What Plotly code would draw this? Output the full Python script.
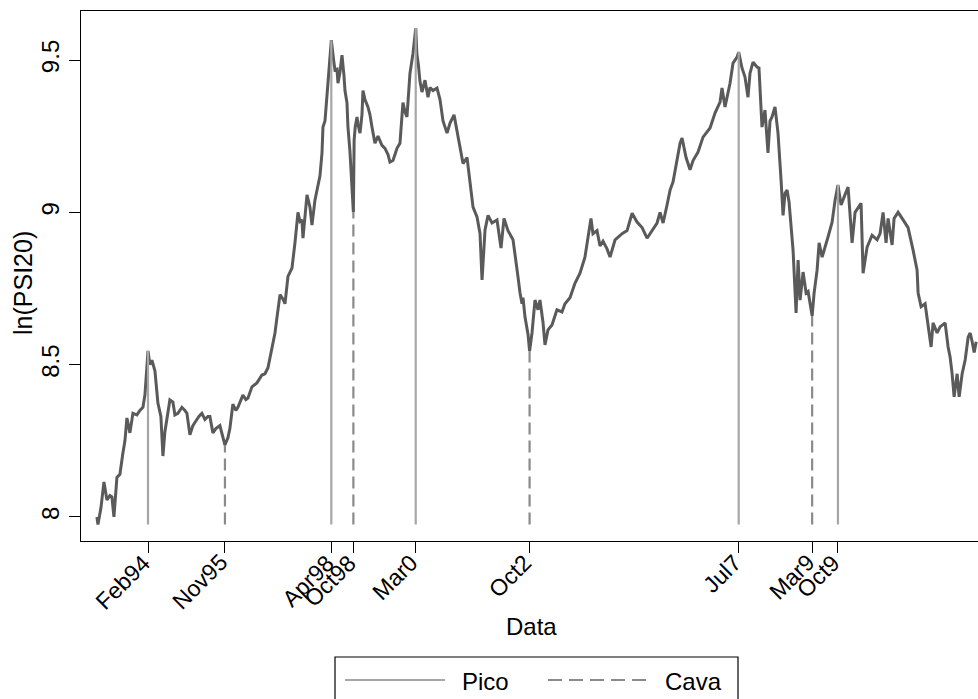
import datetime as dt
import plotly.graph_objects as go

# ---- PSI20 index, natural log, sampled along the series (decimal years) ----
years = [
    1992.925, 1992.948, 1993.016, 1993.084, 1993.152, 1993.220, 1993.265, 1993.311,
    1993.379, 1993.447, 1993.515, 1993.561, 1993.606, 1993.674, 1993.742, 1993.833,
    1993.901, 1993.970, 1994.015, 1994.060, 1994.085, 1994.128, 1994.174, 1994.242,
    1994.310, 1994.378, 1994.424, 1994.469, 1994.515, 1994.582, 1994.651, 1994.696,
    1994.764, 1994.855, 1994.923, 1994.969, 1995.037, 1995.105, 1995.150, 1995.241,
    1995.309, 1995.378, 1995.446, 1995.491, 1995.559, 1995.627, 1995.718, 1995.764,
    1995.833, 1995.900, 1995.945, 1996.013, 1996.081, 1996.127, 1996.240, 1996.308,
    1996.354, 1996.445, 1996.558, 1996.672, 1996.740, 1996.808, 1996.876, 1996.967,
    1997.013, 1997.081, 1997.149, 1997.194, 1997.262, 1997.353, 1997.421, 1997.489,
    1997.535, 1997.580, 1997.603, 1997.694, 1997.762, 1997.807, 1997.875, 1997.944,
    1997.989, 1998.035, 1998.057, 1998.103, 1998.148, 1998.194, 1998.247, 1998.307,
    1998.330, 1998.375, 1998.398, 1998.443, 1998.489, 1998.534, 1998.557, 1998.602,
    1998.625, 1998.670, 1998.748, 1998.765, 1998.790, 1998.830, 1998.852, 1998.898,
    1998.943, 1998.966, 1999.011, 1999.079, 1999.125, 1999.170, 1999.238, 1999.307,
    1999.352, 1999.397, 1999.466, 1999.534, 1999.579, 1999.647, 1999.693, 1999.738,
    1999.806, 1999.874, 1999.920, 1999.965, 2000.033, 2000.100, 2000.164, 2000.190,
    2000.225, 2000.260, 2000.306, 2000.374, 2000.442, 2000.487, 2000.555, 2000.646,
    2000.714, 2000.782, 2000.873, 2000.941, 2001.032, 2001.100, 2001.168, 2001.236,
    2001.327, 2001.395, 2001.463, 2001.554, 2001.622, 2001.668, 2001.736, 2001.804,
    2001.895, 2002.008, 2002.099, 2002.167, 2002.258, 2002.372, 2002.417, 2002.485,
    2002.531, 2002.576, 2002.599, 2002.644, 2002.712, 2002.748, 2002.803, 2002.871,
    2002.939, 2002.984, 2003.052, 2003.098, 2003.166, 2003.257, 2003.370, 2003.484,
    2003.552, 2003.666, 2003.779, 2003.893, 2004.006, 2004.074, 2004.142, 2004.188,
    2004.279, 2004.347, 2004.415, 2004.506, 2004.574, 2004.688, 2004.847, 2004.960,
    2005.074, 2005.187, 2005.301, 2005.414, 2005.528, 2005.641, 2005.709, 2005.778,
    2005.868, 2005.937, 2006.005, 2006.096, 2006.164, 2006.209, 2006.300, 2006.391,
    2006.459, 2006.572, 2006.686, 2006.845, 2006.958, 2007.072, 2007.117, 2007.185,
    2007.299, 2007.367, 2007.458, 2007.496, 2007.571, 2007.639, 2007.707, 2007.753,
    2007.821, 2007.912, 2007.957, 2008.025, 2008.093, 2008.161, 2008.207, 2008.252,
    2008.320, 2008.388, 2008.434, 2008.457, 2008.479, 2008.502, 2008.547, 2008.593,
    2008.638, 2008.684, 2008.729, 2008.797, 2008.843, 2008.888, 2008.956, 2009.024,
    2009.070, 2009.162, 2009.206, 2009.274, 2009.320, 2009.388, 2009.456, 2009.524,
    2009.615, 2009.683, 2009.748, 2009.819, 2009.887, 2009.978, 2010.069, 2010.137,
    2010.273, 2010.319, 2010.410, 2010.523, 2010.637, 2010.705, 2010.773, 2010.841,
    2010.887, 2010.978, 2011.023, 2011.114, 2011.228, 2011.341, 2011.455, 2011.546,
    2011.569, 2011.637, 2011.728, 2011.796, 2011.864, 2011.909, 2012.000, 2012.068,
    2012.182, 2012.250, 2012.295, 2012.341, 2012.386, 2012.454, 2012.500, 2012.568,
    2012.636, 2012.704, 2012.750, 2012.795, 2012.841, 2012.886,
]

ln_psi20 = [
    8.000, 7.975, 8.030, 8.115, 8.056, 8.070, 8.066, 8.000,
    8.130, 8.140, 8.210, 8.250, 8.325, 8.276, 8.340, 8.335,
    8.350, 8.360, 8.400, 8.490, 8.545, 8.500, 8.515, 8.480,
    8.374, 8.330, 8.200, 8.280, 8.320, 8.384, 8.377, 8.335,
    8.340, 8.360, 8.350, 8.340, 8.270, 8.300, 8.310, 8.330,
    8.340, 8.320, 8.330, 8.330, 8.276, 8.290, 8.300, 8.270,
    8.236, 8.260, 8.290, 8.370, 8.350, 8.360, 8.400, 8.385,
    8.390, 8.427, 8.440, 8.466, 8.470, 8.490, 8.540, 8.604,
    8.656, 8.730, 8.715, 8.700, 8.790, 8.817, 8.900, 9.000,
    8.970, 8.975, 8.915, 9.057, 9.017, 8.958, 9.040, 9.083,
    9.120, 9.195, 9.280, 9.300, 9.378, 9.477, 9.565, 9.490,
    9.467, 9.470, 9.424, 9.460, 9.516, 9.450, 9.400, 9.360,
    9.280, 9.200, 9.000, 9.237, 9.280, 9.313, 9.290, 9.260,
    9.320, 9.400, 9.370, 9.346, 9.320, 9.280, 9.227, 9.250,
    9.237, 9.220, 9.210, 9.190, 9.165, 9.170, 9.190, 9.210,
    9.227, 9.360, 9.330, 9.313, 9.456, 9.520, 9.605, 9.520,
    9.483, 9.430, 9.395, 9.434, 9.378, 9.410, 9.400, 9.408,
    9.370, 9.300, 9.260, 9.293, 9.320, 9.270, 9.214, 9.160,
    9.180, 9.106, 9.017, 8.985, 8.930, 8.778, 8.942, 8.990,
    8.965, 8.975, 8.883, 8.980, 8.940, 8.910, 8.853, 8.788,
    8.735, 8.700, 8.720, 8.656, 8.600, 8.545, 8.604, 8.712,
    8.680, 8.712, 8.640, 8.565, 8.614, 8.630, 8.680, 8.673,
    8.700, 8.720, 8.767, 8.800, 8.853, 8.910, 8.980, 8.930,
    8.940, 8.890, 8.905, 8.880, 8.853, 8.910, 8.930, 8.940,
    8.997, 8.968, 8.950, 8.915, 8.940, 8.965, 9.000, 8.965,
    9.024, 9.073, 9.100, 9.170, 9.227, 9.244, 9.180, 9.140,
    9.170, 9.198, 9.247, 9.277, 9.326, 9.362, 9.408, 9.346,
    9.424, 9.490, 9.510, 9.526, 9.474, 9.444, 9.378, 9.457,
    9.493, 9.477, 9.474, 9.280, 9.336, 9.195, 9.300, 9.313,
    9.346, 9.260, 9.172, 9.106, 9.050, 8.990, 9.063, 9.073,
    9.034, 8.950, 8.876, 8.670, 8.843, 8.712, 8.804, 8.735,
    8.740, 8.660, 8.735, 8.810, 8.900, 8.853, 8.883, 8.920,
    8.968, 9.040, 9.090, 9.024, 9.050, 9.083, 8.900, 9.000,
    9.030, 8.800, 8.886, 8.925, 8.910, 8.930, 9.000, 8.900,
    8.980, 8.893, 8.980, 9.000, 8.975, 8.950, 8.876, 8.810,
    8.735, 8.690, 8.700, 8.637, 8.558, 8.637, 8.604, 8.624,
    8.637, 8.558, 8.525, 8.470, 8.394, 8.470, 8.394, 8.470,
    8.515, 8.590, 8.604, 8.575, 8.540, 8.575,
]

# ---- turning points: peaks ("Pico") and troughs ("Cava") ----
pico_dates = ["1994-02-01", "1998-04-01", "2000-03-01", "2007-07-01", "2009-10-01"]
pico_values = [8.545, 9.565, 9.605, 9.526, 9.090]
cava_dates = ["1995-11-01", "1998-10-01", "2002-10-01", "2009-03-01"]
cava_values = [8.236, 9.000, 8.545, 8.660]
marker_floor = 7.975

tick_dates = ["1994-02-01", "1995-11-01", "1998-04-01", "1998-10-01", "2000-03-01",
              "2002-10-01", "2007-07-01", "2009-03-01", "2009-10-01"]
tick_labels = ["Feb94", "Nov95", "Apr98", "Oct98", "Mar0", "Oct2", "Jul7", "Mar9", "Oct9"]

y_ticks = [8, 8.5, 9, 9.5]
y_tick_labels = ["8", "8.5", "9", "9.5"]


def decimal_year(y):
    yr = int(y)
    start = dt.datetime(yr, 1, 1)
    end = dt.datetime(yr + 1, 1, 1)
    return start + (end - start) * (y - yr)


dates = [decimal_year(y) for y in years]


def spikes(xs, tops, floor):
    xx, yy = [], []
    for x, t in zip(xs, tops):
        xx += [x, x, None]
        yy += [floor, t, None]
    return xx, yy


FONT = "Liberation Sans, Arial, Helvetica, sans-serif"
W, H = 978, 699
L, R, T, B = 81, 0, 11, 158
PW, PH = W - L - R, H - T - B


def px(x):
    return (x - L) / PW


def py(y):
    return (H - B - y) / PH


fig = go.Figure()

fig.add_trace(go.Scatter(
    x=dates, y=ln_psi20, mode="lines",
    line=dict(color="#5a5a5a", width=3),
    showlegend=False, hoverinfo="x+y",
))

px_x, px_y = spikes(pico_dates, pico_values, marker_floor)
fig.add_trace(go.Scatter(
    x=px_x, y=px_y, mode="lines", name="Pico",
    line=dict(color="#a6a6a6", width=2.2),
    showlegend=False,
))

cv_x, cv_y = spikes(cava_dates, cava_values, marker_floor)
fig.add_trace(go.Scatter(
    x=cv_x, y=cv_y, mode="lines", name="Cava",
    line=dict(color="#8a8a8a", width=2.2, dash="12px,6px"),
    showlegend=False,
))

fig.update_layout(
    width=W, height=H,
    margin=dict(l=L, r=R, t=T, b=B),
    paper_bgcolor="white", plot_bgcolor="white",
    font=dict(family=FONT, size=24, color="black"),
    showlegend=False,
)

fig.update_xaxes(
    type="date",
    range=[decimal_year(1992.564), decimal_year(2012.927)],
    tickmode="array", tickvals=tick_dates, showticklabels=False,
    ticks="outside", ticklen=11, tickwidth=1.2, tickcolor="black",
    showline=True, linecolor="black", linewidth=1.4, mirror=True,
    showgrid=False, zeroline=False,
)

fig.update_yaxes(
    range=[7.921, 9.661],
    tickmode="array", tickvals=y_ticks, ticktext=y_tick_labels,
    tickangle=-90, ticks="outside", ticklen=11, tickwidth=1.2, tickcolor="black",
    tickfont=dict(size=24),
    showline=True, linecolor="black", linewidth=1.4, mirror=False,
    showgrid=False, zeroline=False,
)

# slanted date labels, each ending just under its tick
for d, lab in zip(tick_dates, tick_labels):
    fig.add_annotation(text=lab, xref="x", yref="paper", x=d, y=py(551),
                       showarrow=False, textangle=-45, xanchor="right",
                       yanchor="top", xshift=10, yshift=4, font=dict(size=23))

# axis titles
fig.add_annotation(text="Data", xref="paper", yref="paper",
                   x=px(531), y=py(626), showarrow=False,
                   font=dict(size=24), xanchor="center", yanchor="middle")
fig.add_annotation(text="ln(PSI20)", xref="paper", yref="paper",
                   x=px(23), y=py(283), showarrow=False, textangle=-90,
                   font=dict(size=25), xanchor="center", yanchor="middle")

# legend box drawn below the axis title
fig.add_shape(type="rect", xref="paper", yref="paper",
              x0=px(335), x1=px(738), y0=py(657), y1=py(720),
              line=dict(color="black", width=1.2), fillcolor="white", layer="above")
fig.add_shape(type="line", xref="paper", yref="paper",
              x0=px(345), x1=px(445), y0=py(680), y1=py(680),
              line=dict(color="#a6a6a6", width=2.2))
fig.add_shape(type="line", xref="paper", yref="paper",
              x0=px(548), x1=px(648), y0=py(680), y1=py(680),
              line=dict(color="#8a8a8a", width=2.2, dash="14px,7px"))
fig.add_annotation(text="Pico", xref="paper", yref="paper",
                   x=px(460), y=py(681), showarrow=False,
                   font=dict(size=24), xanchor="left", yanchor="middle")
fig.add_annotation(text="Cava", xref="paper", yref="paper",
                   x=px(663), y=py(681), showarrow=False,
                   font=dict(size=24), xanchor="left", yanchor="middle")

fig.write_html("out.html")
